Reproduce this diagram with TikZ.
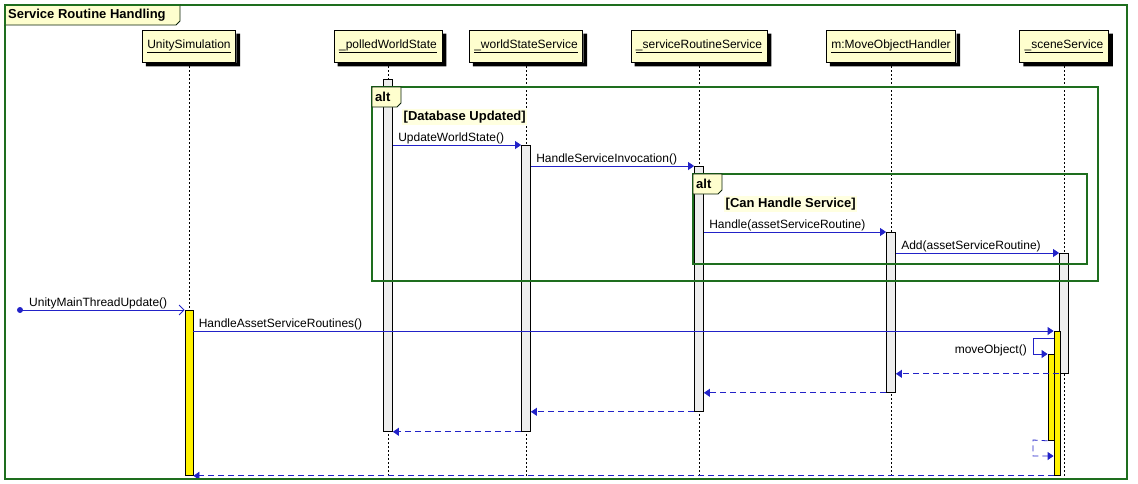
\documentclass[tikz,border=0pt]{standalone}
\usepackage{fontspec}
\setmainfont{Liberation Sans}
\usetikzlibrary{arrows.meta}
\definecolor{framegreen}{RGB}{30,110,30}
\definecolor{msgblue}{RGB}{34,34,200}
\definecolor{boxfill}{RGB}{254,254,206}
\definecolor{actgray}{RGB}{238,238,238}
\definecolor{guardfill}{RGB}{255,255,224}
\tikzset{
  part/.style={draw=black, line width=0.8pt, fill=boxfill, minimum height=32pt, inner xsep=5pt},
  lifeline/.style={black, line width=0.6pt, dash pattern=on 2pt off 2pt},
  act/.style={draw=black, line width=0.8pt, fill=actgray, minimum width=9pt, inner sep=0pt, anchor=north},
  msg/.style={msgblue, line width=0.8pt, -{Triangle[length=6pt,width=8pt]}},
  ret/.style={msg, dash pattern=on 6pt off 4pt},
  lbl/.style={anchor=south west, inner sep=1pt, xshift=4pt, text=black},
  frame/.style={framegreen, line width=1.6pt},
  tab/.style={draw=black!70!framegreen, line width=0.8pt, fill=boxfill},
  boldtxt/.style={font=\fontsize{13}{15}\selectfont\bfseries},
  guard/.style={boldtxt, fill=guardfill, inner sep=1.5pt, anchor=west}
}
\begin{document}
\begin{tikzpicture}[x=1pt,y=-1pt,font=\fontsize{12}{14}\selectfont]
\useasboundingbox (0,0) rectangle (1138,483);

% participants and lifelines
\foreach \px/\pn/\pt in {189/unity/UnitySimulation, 388/polled/\_polledWorldState,
  526/wss/\_worldStateService, 699/srs/\_serviceRoutineService,
  891/moh/m:MoveObjectHandler, 1064/scene/\_sceneService}{
  \node[part] (\pn) at (\px,46) {\underline{\pt}};
  \fill[black] ([shift={(0.4,4)}]\pn.north east) rectangle ([shift={(4,4)}]\pn.south east)
    ([shift={(4,0.4)}]\pn.south west) rectangle ([shift={(4,4)}]\pn.south east);
  \draw[lifeline] (\px,66) -- (\px,477);
}

% activations
\node[act, minimum height=352pt] (aPolled) at (388,79) {};
\node[act, minimum height=286pt] (aWSS) at (526,145) {};
\node[act, minimum height=245pt] (aSRS) at (699,166) {};
\node[act, minimum height=160pt] (aMOH) at (891,232) {};
\node[act, minimum height=120pt] (aScene) at (1064,253) {};
\node[act, fill=yellow, minimum width=6pt, minimum height=144pt] (aSceneY) at (1057,331) {};
\node[act, fill=yellow, minimum width=6pt, minimum height=86pt] (aMove) at (1051,354) {};
\node[act, fill=yellow, minimum width=8pt, minimum height=165pt] (aUnity) at (189,310) {};

% messages
\coordinate (ext) at (20,310);
\fill[msgblue] (ext) circle (3pt);
\draw[msg, -{Straight Barb[length=5pt,width=10pt]}] (ext) -- (aUnity.north west);
\node[lbl, xshift=4pt] (lUnity) at (ext) {UnityMainThreadUpdate()};
\draw[msg] (aUnity.east |- aSceneY.north) -- node[lbl, pos=0] {HandleAssetServiceRoutines()} (aSceneY.north west);
\draw[msg] (aPolled.east |- aWSS.north) -- node[lbl, pos=0] {UpdateWorldState()} (aWSS.north west);
\draw[msg] (aWSS.east |- aSRS.north) -- node[lbl, pos=0] {HandleServiceInvocation()} (aSRS.north west);
\draw[msg] (aSRS.east |- aMOH.north) -- node[lbl, pos=0] {Handle(assetServiceRoutine)} (aMOH.north west);
\draw[msg] (aMOH.east |- aScene.north) -- node[lbl, pos=0] {Add(assetServiceRoutine)} (aScene.north west);
\coordinate (selfA) at (1033,338);
\draw[msg] (aSceneY.west |- selfA) -- (selfA) |- (aMove.north west);
\node[anchor=base east, inner sep=1pt] (lMove) at (1028,353) {moveObject()};

% returns
\draw[ret] (aScene.south west) -- (aMOH.east |- aScene.south);
\draw[ret] (aMOH.south west) -- (aSRS.east |- aMOH.south);
\draw[ret] (aSRS.south west) -- (aWSS.east |- aSRS.south);
\draw[ret] (aWSS.south west) -- (aPolled.east |- aWSS.south);
\coordinate (selfB) at (1033,440);
\draw[ret] (aMove.south west) -- (selfB) |- (aSceneY.west |- 0,456);
\draw[ret] (aSceneY.south west) -- (aUnity.south east);

% alt frames
\draw[frame] (372,87) rectangle (1098,281);
\draw[tab] (372,87) -- (401,87) -- (401,103) -- (397,107) -- (372,107) -- cycle;
\node[boldtxt, anchor=west, inner sep=1pt] (altA) at (374,97) {alt};
\node[guard] (gA) at (402,117) {[Database Updated]};
\draw[frame] (693,174) rectangle (1087,264);
\draw[tab] (693,174) -- (722,174) -- (722,190) -- (718,194) -- (693,194) -- cycle;
\node[boldtxt, anchor=west, inner sep=1pt] (altB) at (695,184) {alt};
\node[guard] (gB) at (724,204) {[Can Handle Service]};

% outer frame
\draw[frame] (5,5) rectangle (1127,479);
\draw[tab] (5,5) -- (180,5) -- (180,21) -- (176,25) -- (5,25) -- cycle;
\draw[frame] (5,5) -- (180,5) (5,5) -- (5,25);
\node[boldtxt, anchor=west, inner sep=1pt] (title) at (7,15) {Service Routine Handling};
\end{tikzpicture}
\end{document}
